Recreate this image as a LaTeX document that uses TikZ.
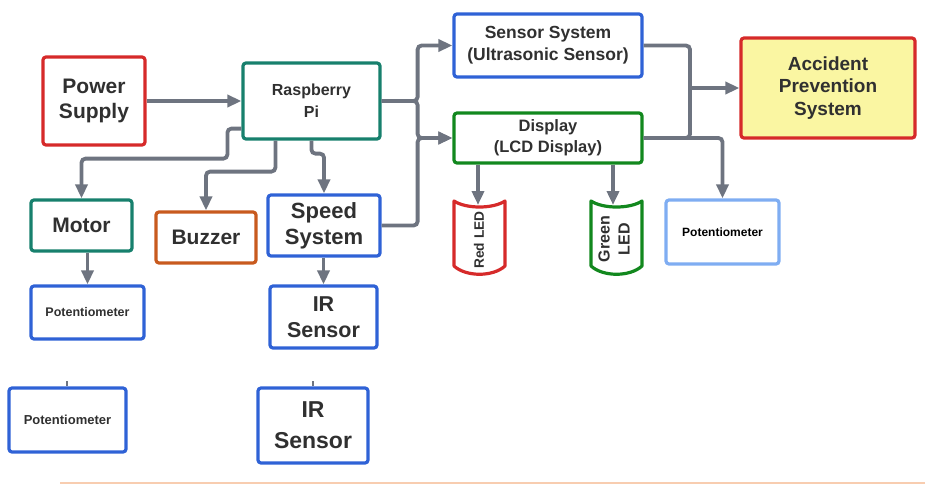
\documentclass[tikz,border=0pt]{standalone}
\usepackage{fontspec}
\setmainfont{Liberation Sans}
\usetikzlibrary{arrows.meta,calc}
\definecolor{cred}{HTML}{D62A2A}
\definecolor{cteal}{HTML}{17806D}
\definecolor{corange}{HTML}{C85A1E}
\definecolor{cblue}{HTML}{2F62D6}
\definecolor{cgreen}{HTML}{12881E}
\definecolor{clblue}{HTML}{7FADF2}
\definecolor{cyellow}{HTML}{FAF6A2}
\definecolor{cgray}{HTML}{6E7480}
\definecolor{ctxt}{HTML}{303030}
\definecolor{cpeach}{HTML}{F8CDB0}
\tikzset{
  box/.style={draw, line width=3.2pt, rounded corners=3pt, fill=white, inner sep=0pt, align=center, text=ctxt, font=\bfseries},
  conn/.style={draw=cgray, line width=3.8pt, rounded corners=4pt, -{Triangle[length=14pt,width=12pt]}},
  plain/.style={draw=cgray, line width=3.8pt, rounded corners=4pt},
  ledtext/.style={inner sep=0pt, align=center, text=ctxt, font=\bfseries, rotate=90},
}
\newcommand{\fs}[2]{\fontsize{#1}{#2}\selectfont}
\begin{document}
\begin{tikzpicture}[x=1pt,y=-1pt]
\useasboundingbox (0,0) rectangle (925,485);
% faint bottom line
\draw[cpeach, line width=1.5pt] (60,483) -- (925,483);
% boxes
\node[box, draw=cred, minimum width=102pt, minimum height=88pt, font=\bfseries\fs{21}{25}] (ps) at (94,101) {Power\\Supply};
\node[box, draw=cteal, minimum width=137pt, minimum height=76pt, font=\bfseries\fs{16}{22}] (rp) at (311.5,101) {Raspberry\\Pi};
\node[box, draw=cteal, minimum width=101pt, minimum height=51pt, font=\bfseries\fs{21}{25}] (mot) at (81.5,225.5) {Motor};
\node[box, draw=corange, minimum width=100pt, minimum height=51pt, font=\bfseries\fs{21}{25}] (buz) at (206,237.5) {Buzzer};
\node[box, draw=cblue, minimum width=112pt, minimum height=61pt, font=\bfseries\fs{22}{26}] (sp) at (324,225.5) {Speed\\System};
\node[box, draw=cblue, minimum width=188pt, minimum height=63pt, font=\bfseries\fs{17.5}{22}] (ss) at (548,45.5) {Sensor System\\(Ultrasonic Sensor)};
\node[box, draw=cgreen, minimum width=188pt, minimum height=50pt, font=\bfseries\fs{16.5}{21}] (disp) at (548,138) {Display\\(LCD Display)};
\node[box, draw=cred, fill=cyellow, minimum width=174pt, minimum height=100pt, font=\bfseries\fs{19}{22.5}] (ap) at (828,88) {Accident\\Prevention\\System};
\node[box, draw=clblue, minimum width=113pt, minimum height=64pt, text=black, font=\bfseries\fs{12}{15}] (pot3) at (722.5,232) {Potentiometer};
\node[box, draw=cblue, minimum width=113pt, minimum height=53pt, font=\bfseries\fs{12.5}{15}] (pot1) at (87.5,312.5) {Potentiometer};
\node[box, draw=cblue, minimum width=107pt, minimum height=62pt, font=\bfseries\fs{21.5}{26}] (ir) at (323.5,317) {IR\\Sensor};
\node[box, draw=cblue, minimum width=117pt, minimum height=64pt, font=\bfseries\fs{13}{15}] (pot2) at (67.5,420) {Potentiometer};
\node[box, draw=cblue, minimum width=110pt, minimum height=75pt, font=\bfseries\fs{23}{31}] (ir2) at (313,425.5) {IR\\Sensor};
% LEDs
\draw[cred, line width=3.2pt, line join=round, fill=white] (454,201) -- (454,266) .. controls (466,277) and (493,277) .. (505,266) -- (505,201) .. controls (493,209) and (466,209) .. cycle;
\node[ledtext, font=\bfseries\fs{13.7}{17}] (rled) at (479,240) {Red LED};
\draw[cgreen, line width=3.2pt, line join=round, fill=white] (591,201) -- (591,266) .. controls (603,277) and (630,277) .. (642,266) -- (642,201) .. controls (630,209) and (603,209) .. cycle;
\node[ledtext, font=\bfseries\fs{16}{20}] (gled) at (614,239) {Green\\LED};
\coordinate (rledtop) at (478,205);
\coordinate (gledtop) at (613,205);
% connectors
\draw[conn] (ps.east) -- (rp.west |- ps.east);
\draw[conn] (rp.east) -- ++(36,0) |- (ss.west);
\draw[conn] (rp.east) -- ++(36,0) |- (disp.west);
\draw[conn] (sp.east) -- ++(36,0) |- (disp.west);
\draw[conn] ([yshift=12pt]rp.south west) -- ++(-14,0) -- ++(0,30) -| (mot.north);
\draw[conn] ([xshift=34pt]rp.south west) -- ++(0,31) -| (buz.north);
\draw[conn] ([xshift=70pt]rp.south west) -- ++(0,13) -| (sp.north);
\draw[conn] (pot1.north |- mot.south) -- (pot1.north);
\draw[conn] (ir.north |- sp.south) -- (ir.north);
\coordinate (jx) at (690,88);
\draw[plain] (ss.east) -| (jx);
\draw[plain] (disp.east) -| (jx);
\draw[conn] (jx) -- (ap.west);
\draw[conn] (disp.east) -| (pot3.north);
\draw[conn] (disp.south -| rledtop) -- (rledtop);
\draw[conn] (disp.south -| gledtop) -- (gledtop);
% tiny marks above bottom boxes
\coordinate (t1) at (67,381);
\coordinate (t2) at (313,381);
\draw[cgray, line width=1.2pt] (t1) -- (pot2.north -| t1);
\draw[cgray, line width=1.2pt] (t2) -- (ir2.north -| t2);
\end{tikzpicture}
\end{document}
